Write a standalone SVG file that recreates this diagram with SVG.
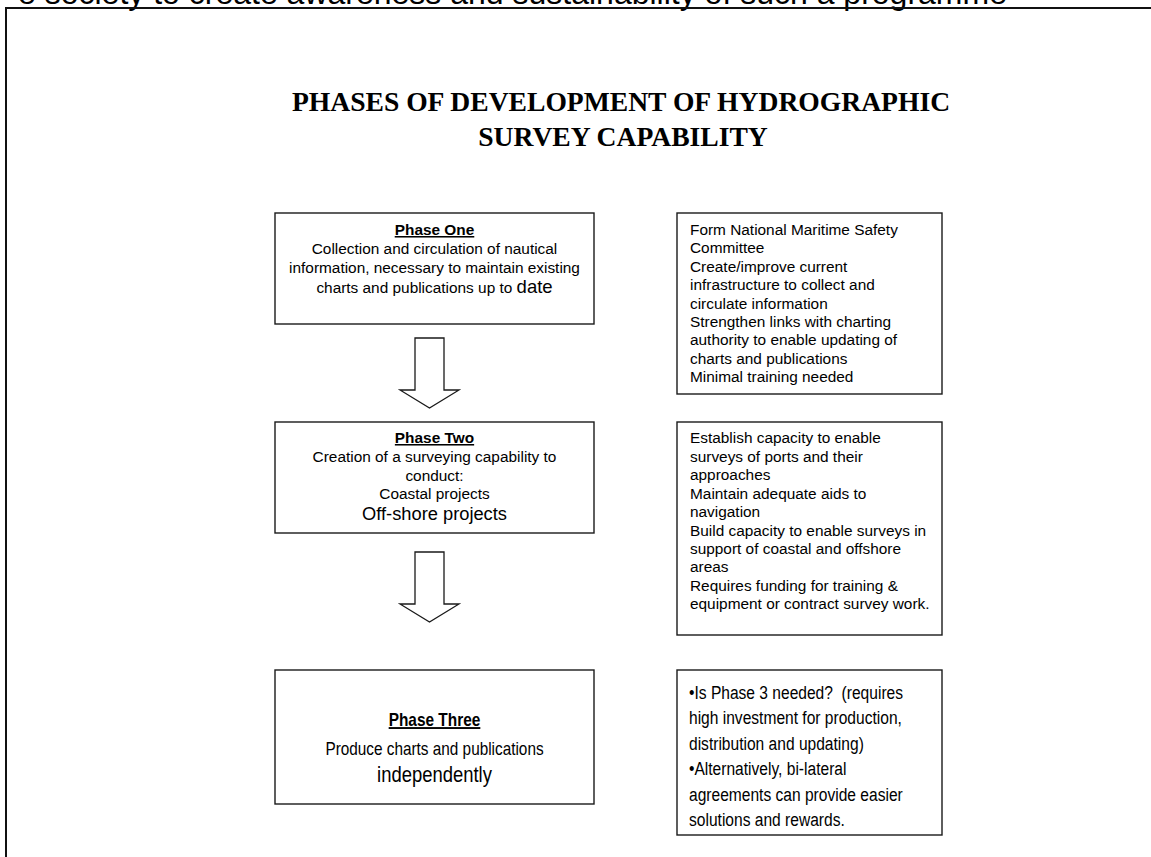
<svg xmlns="http://www.w3.org/2000/svg" width="1151" height="857" viewBox="0 0 1151 857">
  <style>
    .sans { font-family: "Liberation Sans", Arial, sans-serif; fill: #000; }
    .body { font-size: 15.4px; }
    .head { font-size: 15.4px; font-weight: bold; text-decoration: underline; }
    .title { font-family: "Liberation Serif", "Times New Roman", serif; font-weight: bold; font-size: 27.6px; fill: #000; }
    .box { fill: #fff; stroke: #1a1a1a; stroke-width: 1.4; }
    .frame { fill: none; stroke: #111; stroke-width: 2; }
    .arrow { fill: #fff; stroke: #1a1a1a; stroke-width: 1.3; stroke-linejoin: miter; }
    .narrow { font-size: 19px; }
  </style>

  <rect width="1151" height="857" fill="#fff"/>

  <!-- running text of the page, cut off by the top edge -->
  <text class="sans" x="18" y="4" font-size="32">e society to create awareness and sustainability of such a programme</text>

  <!-- page frame: top and left rules -->
  <path class="frame" d="M6 857 V8 H1151"/>

  <!-- heading -->
  <g id="title">
    <text class="title" x="621" y="111" text-anchor="middle">PHASES OF DEVELOPMENT OF HYDROGRAPHIC</text>
    <text class="title" x="623" y="146" text-anchor="middle">SURVEY CAPABILITY</text>
  </g>

  <!-- hollow block arrows between phases -->
  <g id="connectors">
    <polygon class="arrow" points="415,338 444,338 444,390 459,390 429.5,408 400,390 415,390"/>
    <polygon class="arrow" points="415,552 444,552 444,604 459,604 429.5,622 400,604 415,604"/>
  </g>

  <g id="phase-one">
    <rect class="box" x="275" y="213" width="319" height="111"/>
    <text class="sans head" x="434.5" y="235" text-anchor="middle">Phase One</text>
    <text class="sans body" x="434.5" y="254" text-anchor="middle">Collection and circulation of nautical</text>
    <text class="sans body" x="434.5" y="273" text-anchor="middle">information, necessary to maintain existing</text>
    <text class="sans body" x="434.5" y="293" text-anchor="middle">charts and publications up to <tspan font-size="18.5px">date</tspan></text>
  </g>

  <g id="phase-one-notes">
    <rect class="box" x="677" y="213" width="265" height="181"/>
    <g class="sans body">
      <text x="690" y="235">Form National Maritime Safety</text>
      <text x="690" y="253.4">Committee</text>
      <text x="690" y="271.8">Create/improve current</text>
      <text x="690" y="290.2">infrastructure to collect and</text>
      <text x="690" y="308.6">circulate information</text>
      <text x="690" y="327">Strengthen links with charting</text>
      <text x="690" y="345.4">authority to enable updating of</text>
      <text x="690" y="363.8">charts and publications</text>
      <text x="690" y="382.2">Minimal training needed</text>
    </g>
  </g>

  <g id="phase-two">
    <rect class="box" x="275" y="422" width="319" height="111"/>
    <text class="sans head" x="434.5" y="443" text-anchor="middle">Phase Two</text>
    <text class="sans body" x="434.5" y="462" text-anchor="middle">Creation of a surveying capability to</text>
    <text class="sans body" x="434.5" y="480.5" text-anchor="middle">conduct:</text>
    <text class="sans body" x="434.5" y="499" text-anchor="middle">Coastal projects</text>
    <text class="sans" x="434.5" y="520" text-anchor="middle" font-size="18.3px">Off-shore projects</text>
  </g>

  <g id="phase-two-notes">
    <rect class="box" x="677" y="422" width="265" height="213"/>
    <g class="sans body">
      <text x="690" y="443.3">Establish capacity to enable</text>
      <text x="690" y="461.7">surveys of ports and their</text>
      <text x="690" y="480.1">approaches</text>
      <text x="690" y="498.5">Maintain adequate aids to</text>
      <text x="690" y="516.9">navigation</text>
      <text x="690" y="535.5">Build capacity to enable surveys in</text>
      <text x="690" y="553.9">support of coastal and offshore</text>
      <text x="690" y="572.3">areas</text>
      <text x="690" y="590.7">Requires funding for training &amp;</text>
      <text x="690" y="609.1">equipment or contract survey work.</text>
    </g>
  </g>

  <g id="phase-three">
    <rect class="box" x="275" y="670" width="319" height="134"/>
    <g transform="translate(434.5,0) scale(0.82,1)">
      <text class="sans" x="0" y="726" text-anchor="middle" font-size="18.8px" font-weight="bold" text-decoration="underline">Phase Three</text>
      <text class="sans" x="0" y="755" text-anchor="middle" font-size="18.7px">Produce charts and publications</text>
      <text class="sans" x="0" y="782.5" text-anchor="middle" font-size="22.5px">independently</text>
    </g>
  </g>

  <g id="phase-three-notes">
    <rect class="box" x="677" y="670" width="265" height="165"/>
    <g class="sans narrow" transform="translate(689,0) scale(0.82,1)">
      <text x="0" y="699" xml:space="preserve">•Is Phase 3 needed?  (requires</text>
      <text x="0" y="724.5">high investment for production,</text>
      <text x="0" y="750">distribution and updating)</text>
      <text x="0" y="775.5">•Alternatively, bi-lateral</text>
      <text x="0" y="801">agreements can provide easier</text>
      <text x="0" y="826">solutions and rewards.</text>
    </g>
  </g>
</svg>
